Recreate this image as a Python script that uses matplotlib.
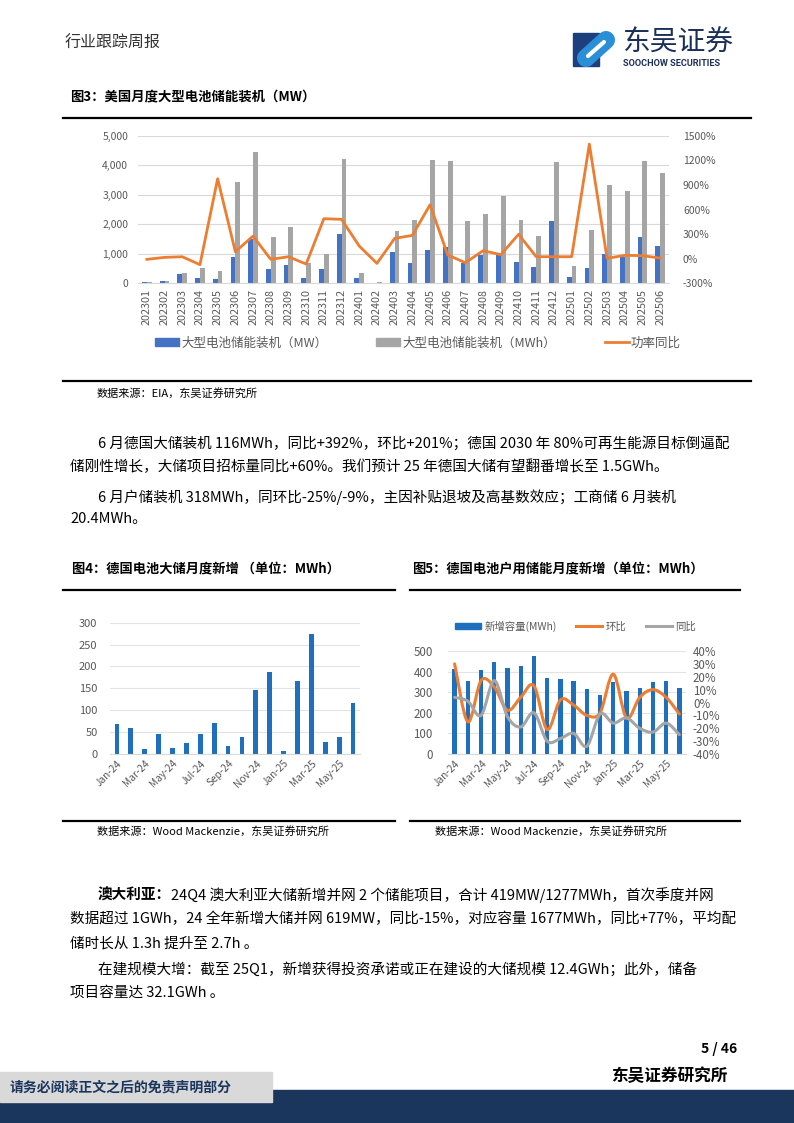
import numpy as np
import matplotlib
matplotlib.use('Agg')
import matplotlib.pyplot as plt
from matplotlib.path import Path
from matplotlib.patches import PathPatch, Rectangle, Patch
from matplotlib.lines import Line2D
from matplotlib.ticker import FuncFormatter

plt.rcParams['font.family'] = ['Noto Sans CJK SC', 'DejaVu Sans']
plt.rcParams['axes.unicode_minus'] = False

W, H = 794, 1123

# ---- 图3 美国月度大型电池储能装机 ----
us_months = ['202301', '202302', '202303', '202304', '202305', '202306',
             '202307', '202308', '202309', '202310', '202311', '202312',
             '202401', '202402', '202403', '202404', '202405', '202406',
             '202407', '202408', '202409', '202410', '202411', '202412',
             '202501', '202502', '202503', '202504', '202505', '202506']
us_mw = [60, 70, 305, 180, 147, 903, 1500, 485, 610, 180, 474, 1670,
         170, 10, 1050, 677, 1140, 1240, 680, 970, 948, 722, 553, 2122,
         214, 530, 982, 880, 1557, 1275]
us_mwh = [40, 70, 360, 530, 430, 3430, 4435, 1557, 1896, 680, 993, 4210,
          340, 30, 1783, 2145, 4176, 4142, 2100, 2348, 2957, 2145, 1603, 4108,
          587, 1806, 3318, 3138, 4130, 3747]
us_yoy = [-8, 16, 24, -73, 975, 85, 276, -8, 24, -65, 488, 480,
          154, -57, 248, 284, 658, 45, -49, 98, 49, 297, 24, 24,
          24, 1398, 4, 41, 37, 8]

# ---- 图4/图5 德国 ----
de_months = ['Jan-24', 'Feb-24', 'Mar-24', 'Apr-24', 'May-24', 'Jun-24',
             'Jul-24', 'Aug-24', 'Sep-24', 'Oct-24', 'Nov-24', 'Dec-24',
             'Jan-25', 'Feb-25', 'Mar-25', 'Apr-25', 'May-25', 'Jun-25']
de_utility = [69, 59, 11, 45, 14, 24, 46, 71, 18, 38, 146, 187,
              6, 167, 274, 27, 39, 116]
de_home = [413, 354, 406, 448, 419, 427, 476, 369, 366, 356, 317, 288,
           350, 306, 320, 348, 353, 318]
de_home_mom = [30, -15, 17, 12, -6, 4, 13, -21, 2, -2, -10, -8,
               22, -12, 4, 10, 4, -9]
de_home_yoy = [4, 1, -10, 17, -11, -19, -8, -30, -28, -24, -34, -9,
               -16, -12, -20, -23, -16, -25]

BLUE = '#4472C4'
GREY = '#A5A5A5'
ORANGE = '#ED7D31'
DEBLUE = '#1f6fbf'
TICK = '#595959'
GRID = '#D9D9D9'


def axes_px(fig, x0, y0, x1, y1):
    return fig.add_axes([x0 / W, 1 - y1 / H, (x1 - x0) / W, (y1 - y0) / H])


def smooth_path(xs, ys):
    # bezier segments like excel's smoothed line
    p = np.column_stack([xs, ys]).astype(float)
    ext = np.vstack([p[0], p, p[-1]])
    verts = [p[0]]
    codes = [Path.MOVETO]
    for i in range(len(p) - 1):
        a, b, c, d = ext[i], ext[i + 1], ext[i + 2], ext[i + 3]
        verts += [b + (c - a) / 6, c - (d - b) / 6, c]
        codes += [Path.CURVE4] * 3
    return Path(verts, codes)


def clean(ax):
    for s in ['top', 'right', 'left']:
        ax.spines[s].set_visible(False)
    ax.spines['bottom'].set_color(GRID)


fig = plt.figure(figsize=(W / 100, H / 100), dpi=100)

# page overlay in pixel coordinates
pg = fig.add_axes([0, 0, 1, 1])
pg.set_xlim(0, W)
pg.set_ylim(H, 0)
pg.axis('off')

pg.text(65, 43, '行业跟踪周报', fontsize=11.5, color='#333333', va='center')

# logo
pg.add_patch(Rectangle((573, 33), 26, 33, color='#1d3f7d'))
pg.plot([586, 606], [58, 40], color='#2b8fd8', lw=13, solid_capstyle='round')
pg.plot([588, 604], [56, 42], color='white', lw=3, solid_capstyle='round')
pg.text(622, 43, '东吴证券', fontsize=20, color='#1a2f5a', va='center')
pg.text(623, 63, 'SOOCHOW SECURITIES', fontsize=6.6, fontweight='bold',
        color='#1a2f5a', va='center', family='Roboto')

# figure titles and frame lines
pg.text(70, 97, '图3：美国月度大型电池储能装机（MW）', fontsize=9.6, fontweight='bold', va='center')
pg.plot([63, 751], [118, 118], color='black', lw=1.6)
pg.plot([63, 751], [381, 381], color='black', lw=1.6)
pg.text(97, 393, '数据来源：EIA，东吴证券研究所', fontsize=8, va='center')

pg.text(72, 568, '图4：德国电池大储月度新增 （单位：MWh）', fontsize=9.5, fontweight='bold', va='center')
pg.text(412, 568, '图5：德国电池户用储能月度新增（单位：MWh）', fontsize=9.5, fontweight='bold', va='center')
for x0, x1 in [(63, 395), (410, 740)]:
    pg.plot([x0, x1], [590, 590], color='black', lw=1.6)
    pg.plot([x0, x1], [821, 821], color='black', lw=1.6)
pg.text(97, 831, '数据来源：Wood Mackenzie，东吴证券研究所', fontsize=8, va='center')
pg.text(435, 831, '数据来源：Wood Mackenzie，东吴证券研究所', fontsize=8, va='center')

# body text
body = [
    (98, 443, '6 月德国大储装机 116MWh，同比+392%，环比+201%；德国 2030 年 80%可再生能源目标倒逼配'),
    (70, 467, '储刚性增长，大储项目招标量同比+60%。我们预计 25 年德国大储有望翻番增长至 1.5GWh。'),
    (98, 497, '6 月户储装机 318MWh，同环比-25%/-9%，主因补贴退坡及高基数效应；工商储 6 月装机'),
    (70, 519, '20.4MWh。'),
    (70, 919, '数据超过 1GWh，24 全年新增大储并网 619MW，同比-15%，对应容量 1677MWh，同比+77%，平均配'),
    (70, 943, '储时长从 1.3h 提升至 2.7h 。'),
    (98, 969, '在建规模大增：截至 25Q1，新增获得投资承诺或正在建设的大储规模 12.4GWh；此外，储备'),
    (70, 993, '项目容量达 32.1GWh 。'),
]
for x, y, s in body:
    pg.text(x, y, s, fontsize=10.5, va='center')

bold_part = pg.text(98, 895, '澳大利亚：', fontsize=10.5, fontweight='bold', va='center')
r = fig.canvas.get_renderer()
bb = bold_part.get_window_extent(r)
x_after = pg.transData.inverted().transform((bb.x1, bb.y0))[0]
pg.text(x_after, 895, '24Q4 澳大利亚大储新增并网 2 个储能项目，合计 419MW/1277MWh，首次季度并网',
        fontsize=10.5, va='center')

# footer
pg.text(737, 1049, '5 / 46', fontsize=10, fontweight='bold', ha='right', va='center')
pg.text(727, 1076, '东吴证券研究所', fontsize=12, fontweight='bold', ha='right', va='center')
pg.add_patch(Rectangle((0, 1090), W, 33, color='#1b365d'))
pg.add_patch(Rectangle((0, 1072), 272, 30, color='#D9D9D9'))
pg.text(10, 1087, '请务必阅读正文之后的免责声明部分', fontsize=10, fontweight='bold',
        color='#1b365d', va='center')

# ---- fig3 ----
ax3 = axes_px(fig, 138, 135.7, 669, 283.3)
x = np.arange(len(us_months))
ax3.bar(x - 0.135, us_mw, 0.27, color=BLUE, zorder=2)
ax3.bar(x + 0.135, us_mwh, 0.27, color=GREY, zorder=2)
ax3.set_xlim(-0.5, len(us_months) - 0.5)
ax3.set_ylim(0, 5000)
ax3.set_yticks(range(0, 5001, 1000))
ax3.yaxis.set_major_formatter(FuncFormatter(lambda v, p: f'{v:,.0f}'))
ax3.grid(axis='y', color=GRID, lw=0.8, zorder=0)
ax3.set_xticks(x)
ax3.set_xticklabels(us_months, rotation=90)
ax3.tick_params(axis='x', length=0, pad=4, labelsize=7.8, colors=TICK)
ax3.tick_params(axis='y', length=0, pad=7, labelsize=7.5, colors=TICK)
clean(ax3)
ax3r = ax3.twinx()
ax3r.plot(x, us_yoy, color=ORANGE, lw=2)
ax3r.set_ylim(-300, 1500)
ax3r.set_yticks(range(-300, 1501, 300))
ax3r.yaxis.set_major_formatter(FuncFormatter(lambda v, p: f'{v:.0f}%'))
ax3r.tick_params(axis='y', length=0, pad=10, labelsize=7.5, colors=TICK)
for s in ax3r.spines.values():
    s.set_visible(False)
h3 = [Patch(color=BLUE), Patch(color=GREY), Line2D([], [], color=ORANGE, lw=2)]
l3 = ['大型电池储能装机（MW）', '大型电池储能装机（MWh）', '功率同比']
ax3.legend(h3, l3, loc='center left', bbox_to_anchor=(155 / W, 1 - 343 / H),
           bbox_transform=fig.transFigure, ncol=3, frameon=False, fontsize=9,
           labelcolor=TICK, handlelength=1.9, handleheight=0.6, columnspacing=3.9,
           handletextpad=0.2, borderpad=0, borderaxespad=0)

# ---- fig4 ----
ax4 = axes_px(fig, 110, 622.7, 360, 754)
x = np.arange(len(de_months))
ax4.bar(x, de_utility, 0.34, color=DEBLUE, zorder=2)
ax4.set_xlim(-0.5, len(de_months) - 0.5)
ax4.set_ylim(0, 300)
ax4.set_yticks(range(0, 301, 50))
ax4.grid(axis='y', color='#E3E3E3', lw=0.8, zorder=0)
ax4.set_xticks(x[::2])
ax4.set_xticklabels(de_months[::2], rotation=45, ha='right', rotation_mode='anchor')
ax4.tick_params(axis='x', length=0, pad=3, labelsize=7.3, colors=TICK)
ax4.tick_params(axis='y', length=0, pad=9, labelsize=8, colors=TICK)
clean(ax4)

# ---- fig5 ----
ax5 = axes_px(fig, 448, 651, 686, 754)
ax5.bar(x, de_home, 0.33, color=DEBLUE, zorder=2)
ax5.set_xlim(-0.5, len(de_months) - 0.5)
ax5.set_ylim(0, 500)
ax5.set_yticks(range(0, 501, 100))
ax5.grid(axis='y', color='#E3E3E3', lw=0.8, zorder=0)
ax5.set_xticks(x[::2])
ax5.set_xticklabels(de_months[::2], rotation=45, ha='right', rotation_mode='anchor')
ax5.tick_params(axis='x', length=0, pad=3, labelsize=7.3, colors=TICK)
ax5.tick_params(axis='y', length=0, pad=11, labelsize=8.3, colors=TICK)
clean(ax5)
ax5r = ax5.twinx()
ax5r.set_ylim(-40, 40)
ax5r.set_yticks(range(-40, 41, 10))
ax5r.yaxis.set_major_formatter(FuncFormatter(lambda v, p: f'{v:.0f}%'))
ax5r.tick_params(axis='y', length=0, pad=5, labelsize=8.3, colors=TICK)
for s in ax5r.spines.values():
    s.set_visible(False)
ax5r.add_patch(PathPatch(smooth_path(x, de_home_mom), fill=False, edgecolor=ORANGE,
                         lw=2.2, capstyle='round'))
ax5r.add_patch(PathPatch(smooth_path(x, de_home_yoy), fill=False, edgecolor=GREY,
                         lw=2.2, capstyle='round'))
h5 = [Patch(color=DEBLUE), Line2D([], [], color=ORANGE, lw=2.2), Line2D([], [], color=GREY, lw=2.2)]
l5 = ['新增容量(MWh)', '环比', '同比']
ax5.legend(h5, l5, loc='center left', bbox_to_anchor=(455 / W, 1 - 626 / H),
           bbox_transform=fig.transFigure, ncol=3, frameon=False, fontsize=7.5,
           labelcolor=TICK, handlelength=2.5, handleheight=0.6, columnspacing=1.9,
           handletextpad=0.3, borderpad=0, borderaxespad=0)

fig.savefig('out.png', dpi=100)
